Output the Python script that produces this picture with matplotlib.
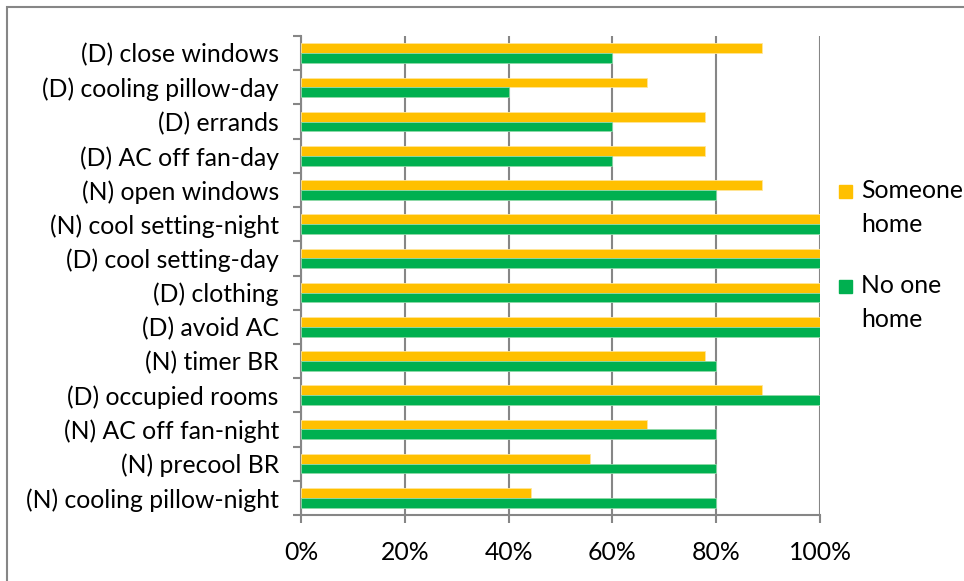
import matplotlib.pyplot as plt
import numpy as np
from matplotlib.patches import Rectangle

categories = [
    "(D) close windows", "(D) cooling pillow-day", "(D) errands", "(D) AC off fan-day",
    "(N) open windows", "(N) cool setting-night", "(D) cool setting-day", "(D) clothing",
    "(D) avoid AC", "(N) timer BR", "(D) occupied rooms", "(N) AC off fan-night",
    "(N) precool BR", "(N) cooling pillow-night",
]
someone_home = [88.9, 66.7, 77.8, 77.8, 88.9, 100, 100, 100, 100, 77.8, 88.9, 66.7, 55.6, 44.4]
no_one_home = [60, 40, 60, 60, 80, 100, 100, 100, 100, 80, 100, 80, 80, 80]
x_ticks = [0, 20, 40, 60, 80, 100]
series_names = ["Someone\nhome", "No one\nhome"]
series_colors = ['#FFC000', '#00B050']

plt.rcParams['font.family'] = ['Lato', 'DejaVu Sans']
grey = '#868686'
fs = 17.8

W, H = 964, 581
fig = plt.figure(figsize=(W / 100, H / 100), dpi=100)
ax = fig.add_axes([301 / W, 1 - 515 / H, 519 / W, 479 / H])

y = np.arange(len(categories))
h = 0.285
ax.barh(y - h / 2, someone_home, height=h, color=series_colors[0], edgecolor='#FFE699',
        linewidth=0.6, zorder=3)
ax.barh(y + h / 2, no_one_home, height=h, color=series_colors[1], edgecolor='#8FD9A8',
        linewidth=0.6, zorder=3)

ax.set_xlim(0, 100)
ax.set_ylim(len(categories) - 0.5, -0.5)
ax.set_xticks(x_ticks)
ax.set_xticklabels([f"{v}%" for v in x_ticks])
ax.set_yticks(y)
ax.set_yticklabels(categories)
ax.set_yticks(np.arange(len(categories) + 1) - 0.5, minor=True)
ax.tick_params(axis='y', which='major', length=0, pad=16)
ax.tick_params(axis='y', which='minor', length=6, width=1.5, color=grey)
ax.tick_params(axis='x', length=6, width=1.5, color=grey, pad=13)
ax.tick_params(labelsize=fs)
ax.grid(axis='x', color=grey, linewidth=1.5, zorder=1)

for side in ['top', 'right']:
    ax.spines[side].set_visible(False)
for side in ['left', 'bottom']:
    ax.spines[side].set_color(grey)
    ax.spines[side].set_linewidth(1.5)

# legend: square marker next to the first line of a two-line label
for i, (name, col) in enumerate(zip(series_names, series_colors)):
    base = 198 + i * 95
    fig.patches.append(Rectangle((839 / W, 1 - base / H), 13 / W, 13 / H,
                                 transform=fig.transFigure, color=col))
    for j, line in enumerate(name.split('\n')):
        fig.text(861 / W, 1 - (base + j * 34) / H, line, fontsize=fs,
                 ha='left', va='baseline')

# outer chart frame
fig.patches.append(Rectangle((7 / W, -0.1), 1.2, 1 - 7 / H + 0.1, transform=fig.transFigure,
                             fill=False, edgecolor=grey, linewidth=1.5))

fig.savefig('out.png', dpi=100)
